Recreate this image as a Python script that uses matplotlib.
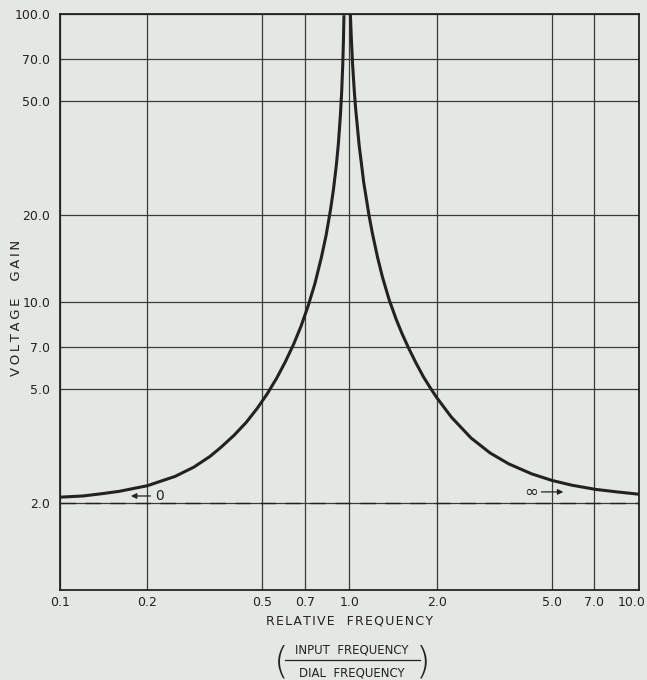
import matplotlib
matplotlib.use('Agg')
import matplotlib.pyplot as plt
import matplotlib.transforms as mtransforms
from matplotlib.lines import Line2D

# voltage gain vs relative frequency
freq_below = [0.1, 0.12, 0.14, 0.16, 0.2, 0.25, 0.29, 0.33, 0.36, 0.4, 0.44, 0.48,
              0.52, 0.56, 0.6, 0.64, 0.68, 0.72, 0.76, 0.8, 0.83, 0.86, 0.88, 0.9,
              0.915, 0.93, 0.94, 0.948, 0.953, 0.957]
gain_below = [2.10, 2.12, 2.16, 2.20, 2.30, 2.48, 2.67, 2.91, 3.13, 3.45, 3.82, 4.27,
              4.80, 5.43, 6.19, 7.10, 8.23, 9.7, 11.6, 14.3, 17.0, 20.9, 24.5, 29.6,
              35.2, 44.2, 53.8, 66.8, 80.6, 99.0]

freq_above = [1.007, 1.015, 1.025, 1.039, 1.05, 1.08, 1.12, 1.168, 1.2, 1.25, 1.3,
              1.37, 1.45, 1.52, 1.6, 1.7, 1.8, 1.9, 2.0, 2.25, 2.63, 3.06, 3.55,
              4.26, 5.01, 5.87, 7.08, 8.4, 10.0]
gain_above = [100.0, 82.0, 67.0, 54.0, 47.0, 35.0, 26.0, 20.0, 17.3, 14.3, 12.2,
              10.2, 8.7, 7.75, 6.92, 6.12, 5.5, 5.04, 4.66, 3.98, 3.37, 2.99, 2.74,
              2.53, 2.40, 2.31, 2.235, 2.19, 2.15]

asymptote = 2.0

x_ticks = [0.1, 0.2, 0.5, 0.7, 1.0, 2.0, 5.0, 7.0, 10.0]
x_labels = ['0.1', '0.2', '0.5', '0.7', '1.0', '2.0', '5.0', '7.0', '10.0']
y_ticks = [2.0, 5.0, 7.0, 10.0, 20.0, 50.0, 70.0, 100.0]
y_labels = ['2.0', '5.0', '7.0', '10.0', '20.0', '50.0', '70.0', '100.0']

bg = '#e5e7e3'
ink = '#222222'


def spaced(s, gap='\u200a'):
    # wide lettering like the drafted original
    return gap.join(s)


fig = plt.figure(figsize=(6.47, 6.80), dpi=100, facecolor=bg)
ax = fig.add_axes([0.0927, 0.1324, 0.8949, 0.8471], facecolor=bg)

ax.set_xscale('log')
ax.set_yscale('log')
ax.set_xlim(0.1, 10.0)
ax.set_ylim(1.0, 100.0)

ax.set_xticks(x_ticks, labels=x_labels)
ax.set_yticks(y_ticks, labels=y_labels)
ax.xaxis.set_minor_locator(matplotlib.ticker.NullLocator())
ax.yaxis.set_minor_locator(matplotlib.ticker.NullLocator())
ax.tick_params(length=0, labelsize=9, colors=ink)
ax.tick_params(axis='x', pad=4)
ax.tick_params(axis='y', pad=7)

# last x label sits inside the figure edge
last = ax.get_xticklabels()[-1]
last.set_ha('right')
last.set_transform(last.get_transform() +
                   mtransforms.ScaledTranslation(7 / 100, 0, fig.dpi_scale_trans))

ax.grid(True, which='major', color='#3a3a3a', linewidth=0.9)
ax.set_axisbelow(True)
for s in ax.spines.values():
    s.set_color(ink)
    s.set_linewidth(1.3)

# asymptote
ax.axhline(asymptote, color=ink, linewidth=1.0, dashes=(11, 7), zorder=2)

# the response curve
ax.plot(freq_below, gain_below, color=ink, linewidth=2.2, zorder=3,
        solid_joinstyle='round', solid_capstyle='butt')
ax.plot(freq_above, gain_above, color=ink, linewidth=2.2, zorder=3,
        solid_joinstyle='round', solid_capstyle='butt')

# arrows for f -> 0 and f -> infinity
ax.annotate('', xy=(0.172, 2.12), xytext=(0.21, 2.12),
            arrowprops=dict(arrowstyle='-|>', color=ink, lw=0.9, mutation_scale=8))
ax.text(0.213, 2.12, '0', fontsize=10, color=ink, va='center', ha='left')
ax.text(4.25, 2.19, '\u221e', fontsize=12, color=ink, va='center', ha='center')
ax.annotate('', xy=(5.6, 2.19), xytext=(4.5, 2.19),
            arrowprops=dict(arrowstyle='-|>', color=ink, lw=0.9, mutation_scale=8))

ax.set_xlabel(spaced('RELATIVE') + '   ' + spaced('FREQUENCY'), fontsize=9, color=ink)
ax.xaxis.set_label_coords(0.5, -25 / 576)
ax.set_ylabel(spaced('VOLTAGE', '\u2009') + '    ' + spaced('GAIN', '\u2009'),
              fontsize=9.5, color=ink)
ax.yaxis.set_label_coords(-(60 - 23) / 579, 0.49)

# (INPUT FREQUENCY / DIAL FREQUENCY)
cx = 352 / 647
fig.text(cx, 1 - 650 / 680, 'INPUT  FREQUENCY', fontsize=8.5, color=ink,
         ha='center', va='center')
fig.text(cx, 1 - 673 / 680, 'DIAL  FREQUENCY', fontsize=8.5, color=ink,
         ha='center', va='center')
fig.add_artist(Line2D([285 / 647, 420 / 647], [1 - 660 / 680, 1 - 660 / 680],
                      color=ink, linewidth=0.9, transform=fig.transFigure))
fig.text(281 / 647, 1 - 662 / 680, '(', fontsize=27, color=ink,
         ha='center', va='center', fontweight='light')
fig.text(423 / 647, 1 - 662 / 680, ')', fontsize=27, color=ink,
         ha='center', va='center', fontweight='light')

fig.savefig('out.png', dpi=100, facecolor=bg)
